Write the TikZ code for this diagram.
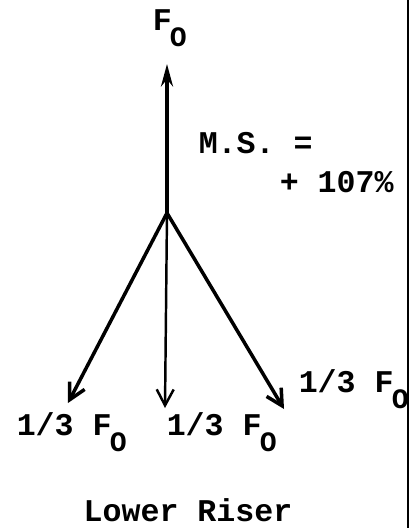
\documentclass[tikz,border=0pt]{standalone}
\usepackage{fontspec}
\setmainfont{Liberation Mono}
\usetikzlibrary{arrows.meta}
\newcommand{\Fsub}{F\kern-1pt\raisebox{-9.5pt}{\fontsize{16}{16}\selectfont O}}

\begin{document}
\begin{tikzpicture}[x=0.02cm,y=-0.02cm,line width=2pt,
  lbl/.style={anchor=base west,inner sep=0pt,font=\fontsize{18}{20}\selectfont\bfseries},
  upforce/.style={-{Stealth[length=4.5mm,width=2.4mm]}},
  downforce/.style={-{Straight Barb[length=3.2mm,width=3.4mm]}}]
\useasboundingbox (0,0) rectangle (410,528);
% Knoten und Pfeilspitzen
\coordinate (apex) at (167,213);
\coordinate (top) at (167,64);
\coordinate (tl) at (68,403);
\coordinate (tc) at (165,408);
\coordinate (tr) at (284,409);
% Kraefte
\draw[upforce] (apex) -- (top);
\foreach \t/\w in {tl/2pt,tc/1.4pt,tr/2pt}
  \draw[downforce,line width=\w] (apex) -- (\t);
% Beschriftungen
\node[lbl] (fo) at (151,30) {\Fsub};
\node[lbl] (ms) at (197,153) {M.S. =};
\node[lbl] (pct) at (278,192) {+ 107\%};
\foreach \n/\x/\y in {l/15/435,c/165/435,r/297/392}
  \node[lbl] (f\n) at (\x,\y) {1/3 \Fsub};
\node[lbl,anchor=base] (title) at (188,521) {Lower Riser};
% rechter Rand
\draw[line width=1.2pt] (408,0) -- (408,528);
\end{tikzpicture}
\end{document}
